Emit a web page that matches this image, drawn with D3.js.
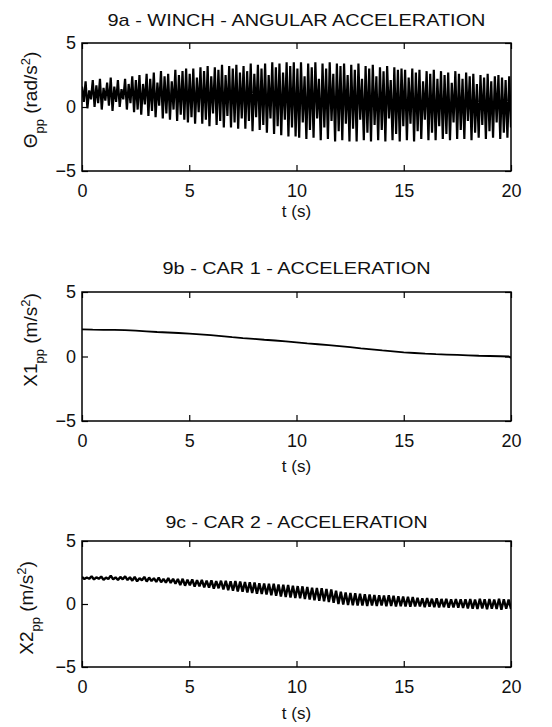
<!DOCTYPE html>
<html><head><meta charset="utf-8">
<script src="https://cdn.jsdelivr.net/npm/d3@7"></script>
<style>
body{margin:0;background:#fff}
text{font-family:"Liberation Sans",Arial,Helvetica,sans-serif;fill:#111}
</style>
</head><body>
<svg id="chart" width="552" height="727"></svg>
<script>
// ---------- data ----------
const xTicks = [0, 5, 10, 15, 20];
const yTicks = [-5, 0, 5];
const xDomain = [0, 20];
const yDomain = [-5, 5];
const titles = ["9a - WINCH - ANGULAR ACCELERATION", "9b - CAR 1 - ACCELERATION", "9c - CAR 2 - ACCELERATION"];
const xLabel = "t (s)";

// 9a: winch angular acceleration, alternating peak / trough of each oscillation cycle
const winchPeaks = [
  1.6,2.0,1.3,2.1,1.7,2.2,1.5,1.9,2.3,1.6,2.1,1.4,2.2,1.8,2.4,
  2.1,2.5,1.8,2.6,2.2,2.7,1.9,2.8,2.4,2.6,2.0,2.9,2.5,2.8,3.0,
  2.6,3.0,2.3,3.1,2.8,3.2,2.4,3.1,2.9,3.3,2.5,3.2,3.0,3.3,2.7,
  3.2,2.8,3.4,2.6,3.3,3.0,3.4,2.5,3.5,3.1,3.4,2.7,3.5,3.2,3.5,
  3.0,3.5,2.4,3.4,3.1,3.5,2.2,3.4,3.0,3.5,2.6,3.4,3.2,3.4,2.5,
  3.3,2.9,3.4,2.2,3.2,3.0,3.3,2.4,3.1,2.8,3.2,2.1,3.1,2.9,3.0,
  2.9,2.3,3.0,2.7,2.9,2.0,2.8,2.6,2.9,2.2,2.8,2.5,2.7,1.9,2.8,
  2.6,2.2,2.7,2.4,2.6,1.8,2.5,2.3,2.6,2.0,2.4,2.5,2.3,2.1,2.4
];
const winchTroughs = [
  0.4,-0.1,0.6,0.0,0.3,-0.2,0.5,0.1,-0.3,0.4,0.0,0.6,-0.2,0.3,-0.4,
  -0.2,-0.6,0.2,-0.7,-0.3,-0.8,0.1,-0.9,-0.5,-1.0,-0.2,-1.1,-0.6,-1.0,-1.2,
  -0.8,-1.3,-0.4,-1.3,-1.0,-1.5,-0.5,-1.4,-1.1,-1.6,-0.7,-1.6,-1.2,-1.7,-0.9,
  -1.7,-1.1,-1.9,-0.8,-1.8,-1.4,-2.0,-0.9,-2.1,-1.5,-2.2,-1.0,-2.3,-1.6,-2.3,
  -2.4,-1.2,-2.5,-1.8,-2.4,-0.9,-2.6,-1.6,-2.5,-1.1,-2.7,-1.9,-2.6,-1.3,-2.7,
  -1.7,-2.7,-1.0,-2.6,-2.0,-2.7,-1.4,-2.6,-1.8,-2.7,-0.9,-2.6,-2.1,-2.7,-1.5,
  -2.6,-1.3,-2.7,-1.9,-2.5,-1.0,-2.6,-2.0,-2.6,-1.5,-2.5,-2.1,-2.6,-1.2,-2.5,
  -1.8,-2.5,-1.1,-2.6,-2.0,-2.4,-1.4,-2.5,-1.9,-2.4,-1.2,-2.5,-2.0,-2.4,-1.6
];

// 9b: car 1 acceleration
const car1Time = [0,0.5,1,1.5,2,2.5,3,3.5,4,4.5,5,5.5,6,6.5,7,7.5,8,8.5,9,9.5,10,10.5,11,11.5,12,12.5,13,13.5,14,14.5,15,15.5,16,16.5,17,17.5,18,18.5,19,19.5,19.9,20];
const car1Values = [2.1,2.08,2.07,2.06,2.05,2.0,1.95,1.9,1.86,1.82,1.77,1.72,1.65,1.58,1.5,1.43,1.37,1.3,1.24,1.17,1.1,1.02,0.95,0.88,0.8,0.72,0.63,0.55,0.47,0.4,0.32,0.27,0.22,0.18,0.15,0.12,0.09,0.06,0.04,0.02,0.0,-0.12];

// 9c: car 2 acceleration, alternating peak / trough of each oscillation cycle
const car2Peaks = [
  2.15,2.1,2.2,2.12,2.18,2.1,2.25,2.12,2.15,2.2,
  2.12,2.15,2.05,2.15,2.1,2.05,2.1,2.0,2.05,2.0,
  1.98,2.0,1.92,1.95,1.9,1.92,1.85,1.88,1.82,1.85,
  1.85,1.8,1.82,1.78,1.75,1.72,1.7,1.65,1.62,1.6,
  1.6,1.55,1.52,1.5,1.45,1.42,1.4,1.35,1.3,1.28,
  1.25,1.2,1.15,1.05,0.98,0.92,0.88,0.85,0.82,0.78,
  0.75,0.72,0.7,0.68,0.7,0.65,0.62,0.6,0.58,0.55,
  0.5,0.45,0.48,0.42,0.45,0.4,0.42,0.38,0.4,0.38,
  0.38,0.4,0.35,0.42,0.38,0.4,0.36,0.42,0.38,0.35
];
const car2Troughs = [
  1.98,2.0,1.95,2.0,1.92,1.98,1.95,1.9,1.96,1.9,
  1.85,1.8,1.88,1.78,1.82,1.75,1.72,1.7,1.68,1.62,
  1.5,1.45,1.48,1.38,1.4,1.32,1.3,1.22,1.25,1.15,
  1.1,1.05,1.0,0.98,0.92,0.88,0.82,0.8,0.75,0.7,
  0.65,0.6,0.55,0.52,0.48,0.45,0.4,0.35,0.3,0.25,
  0.22,0.15,0.1,0.0,-0.05,-0.08,-0.1,-0.12,-0.12,-0.15,
  -0.12,-0.15,-0.12,-0.18,-0.15,-0.2,-0.18,-0.2,-0.22,-0.2,
  -0.2,-0.25,-0.22,-0.25,-0.28,-0.25,-0.3,-0.28,-0.3,-0.32,
  -0.35,-0.38,-0.4,-0.35,-0.42,-0.38,-0.4,-0.45,-0.38,-0.4
];

// ---------- build series ----------
function alternate(peaks, troughs) {
  const vals = [];
  peaks.forEach((p, i) => { vals.push(p); vals.push(troughs[i]); });
  const n = vals.length;
  return vals.map((v, k) => ({ t: xDomain[0] + k * (xDomain[1] - xDomain[0]) / (n - 1), v }));
}
const series = [
  alternate(winchPeaks, winchTroughs),
  car1Time.map((t, i) => ({ t, v: car1Values[i] })),
  alternate(car2Peaks, car2Troughs)
];

// ---------- layout ----------
const svg = d3.select("#chart");
const left = 82, right = 511;
const panels = [
  { top: 43, bottom: 171, titleY: 26, titleW: 378, xlabY: 217, ylabX: 37, ylabY: 100, sw: 2.2 },
  { top: 292, bottom: 421, titleY: 274, titleW: 268, xlabY: 472, ylabX: 37, ylabY: 340, sw: 1.8 },
  { top: 541, bottom: 667, titleY: 528, titleW: 262, xlabY: 719, ylabX: 33, ylabY: 608, sw: 2.4 }
];
const ylabels = [
  [["Θ", 0], ["pp", 1], [" (rad/s", 0], ["2", -1], [")", 0]],
  [["X1", 0], ["pp", 1], [" (m/s", 0], ["2", -1], [")", 0]],
  [["X2", 0], ["pp", 1], [" (m/s", 0], ["2", -1], [")", 0]]
];

panels.forEach((p, idx) => {
  const x = d3.scaleLinear().domain(xDomain).range([left, right]);
  const y = d3.scaleLinear().domain(yDomain).range([p.bottom, p.top]);
  const g = svg.append("g");

  const clipId = "clip" + idx;
  g.append("clipPath").attr("id", clipId).append("rect")
    .attr("x", left).attr("y", p.top).attr("width", right - left).attr("height", p.bottom - p.top);

  const line = d3.line().x(d => x(d.t)).y(d => y(d.v));
  g.append("path").datum(series[idx])
    .attr("clip-path", `url(#${clipId})`)
    .attr("fill", "none").attr("stroke", "#000")
    .attr("stroke-width", p.sw).attr("stroke-linejoin", "bevel")
    .attr("d", line);

  // axes (MATLAB style: ticks inward, on all four sides)
  const tl = 6;
  g.append("g").attr("transform", `translate(0,${p.bottom})`)
    .call(d3.axisBottom(x).tickValues(xTicks).tickSize(-tl).tickPadding(13).tickFormat(d3.format("d")))
    .call(a => a.select(".domain").remove());
  g.append("g").attr("transform", `translate(0,${p.top})`)
    .call(d3.axisTop(x).tickValues(xTicks).tickSize(-tl).tickFormat(""))
    .call(a => a.select(".domain").remove());
  g.append("g").attr("transform", `translate(${left},0)`)
    .call(d3.axisLeft(y).tickValues(yTicks).tickSize(-tl).tickPadding(6).tickFormat(d3.format("d")))
    .call(a => a.select(".domain").remove());
  g.append("g").attr("transform", `translate(${right},0)`)
    .call(d3.axisRight(y).tickValues(yTicks).tickSize(-tl).tickFormat(""))
    .call(a => a.select(".domain").remove());
  g.selectAll(".tick line").attr("stroke", "#000").attr("stroke-width", 1.2);
  g.selectAll(".tick text").attr("font-size", 18).attr("font-family", "Liberation Sans, Arial, sans-serif").attr("fill", "#111");

  g.append("rect").attr("x", left).attr("y", p.top)
    .attr("width", right - left).attr("height", p.bottom - p.top)
    .attr("fill", "none").attr("stroke", "#000").attr("stroke-width", 1.5);

  // title
  g.append("text").attr("x", (left + right) / 2).attr("y", p.titleY)
    .attr("text-anchor", "middle").attr("font-size", 17)
    .attr("textLength", p.titleW).attr("lengthAdjust", "spacingAndGlyphs")
    .text(titles[idx]);

  // x label
  g.append("text").attr("x", (left + right) / 2).attr("y", p.xlabY)
    .attr("text-anchor", "middle").attr("font-size", 17).text(xLabel);

  // y label
  const yl = g.append("text")
    .attr("transform", `translate(${p.ylabX},${p.ylabY}) rotate(-90)`)
    .attr("text-anchor", "middle").attr("font-size", 19);
  let prev = 0;
  ylabels[idx].forEach(([s, shift]) => {
    const dy = shift * 7 - prev * 7;
    prev = shift;
    yl.append("tspan").attr("dy", dy).attr("font-size", shift ? 13 : 19).text(s);
  });
});
</script>
</body></html>
